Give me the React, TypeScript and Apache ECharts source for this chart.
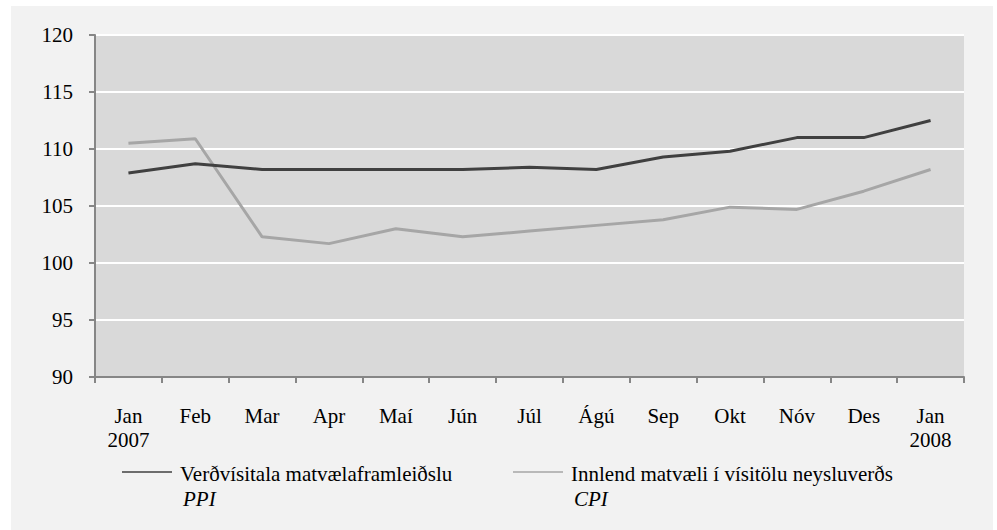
import React, { useEffect, useRef } from "react";
import * as echarts from "echarts";

const categories = ["Jan\n2007", "Feb", "Mar", "Apr", "Maí", "Jún", "Júl", "Ágú", "Sep", "Okt", "Nóv", "Des", "Jan\n2008"];
const ppiValues = [107.9, 108.7, 108.2, 108.2, 108.2, 108.2, 108.4, 108.2, 109.3, 109.8, 111.0, 111.0, 112.5];
const cpiValues = [110.5, 110.9, 102.3, 101.7, 103.0, 102.3, 102.8, 103.3, 103.8, 104.9, 104.7, 106.3, 108.2];
const ppiName = "Verðvísitala matvælaframleiðslu";
const ppiSub = "PPI";
const cpiName = "Innlend matvæli í vísitölu neysluverðs";
const cpiSub = "CPI";
const yMin = 90;
const yMax = 120;
const yStep = 5;

const FONT = "'Liberation Serif', 'Times New Roman', serif";
const DARK = "#404040";
const LIGHT = "#a6a6a6";

export default function App() {
  const ref = useRef<HTMLDivElement>(null);
  useEffect(() => {
    if (!ref.current) return;
    const chart = echarts.init(ref.current, null, { renderer: "svg" });
    const legendItem = (x: number, color: string, name: string, sub: string) => [
      {
        type: "line",
        shape: { x1: x, y1: 472, x2: x + 50, y2: 472 },
        style: { stroke: color, lineWidth: 1.5 },
        z: 10,
      },
      {
        type: "text",
        x: x + 58,
        y: 473.5,
        style: { text: name, font: `21px ${FONT}`, fill: "#000", verticalAlign: "middle", align: "left" },
        z: 10,
      },
      {
        type: "text",
        x: x + 61,
        y: 499,
        style: { text: sub, font: `italic 21px ${FONT}`, fill: "#000", verticalAlign: "middle", align: "left" },
        z: 10,
      },
    ];
    chart.setOption({
      animation: false,
      backgroundColor: "#ffffff",
      graphic: [
        {
          type: "rect",
          shape: { x: 11, y: 6, width: 982, height: 524 },
          style: { fill: "#f2f2f2" },
          z: -10,
          silent: true,
        },
        ...legendItem(122, DARK, ppiName, ppiSub),
        ...legendItem(513, LIGHT, cpiName, cpiSub),
      ],
      grid: {
        left: 95,
        top: 35,
        right: 33,
        bottom: 153,
        show: true,
        backgroundColor: "#d9d9d9",
        borderWidth: 0,
        z: 0,
      },
      xAxis: {
        type: "category",
        data: categories,
        boundaryGap: true,
        axisLine: { show: true, lineStyle: { color: "#868686", width: 2 } },
        axisTick: { show: true, interval: 0, length: 6, lineStyle: { color: "#868686", width: 2 } },
        axisLabel: {
          interval: 0,
          margin: 27,
          fontFamily: FONT,
          fontSize: 21,
          lineHeight: 24,
          color: "#000",
          align: "center",
        },
        splitLine: { show: false },
      },
      yAxis: {
        type: "value",
        min: yMin,
        max: yMax,
        interval: yStep,
        axisLine: { show: true, lineStyle: { color: "#868686", width: 2 } },
        axisTick: { show: true, length: 6, lineStyle: { color: "#868686", width: 2 } },
        axisLabel: { margin: 22, fontFamily: FONT, fontSize: 21, color: "#000" },
        splitLine: { show: true, lineStyle: { color: "#ffffff", width: 2 } },
      },
      series: [
        {
          name: ppiName,
          type: "line",
          data: ppiValues,
          symbol: "none",
          lineStyle: { color: DARK, width: 3 },
          itemStyle: { color: DARK },
          z: 3,
        },
        {
          name: cpiName,
          type: "line",
          data: cpiValues,
          symbol: "none",
          lineStyle: { color: LIGHT, width: 3 },
          itemStyle: { color: LIGHT },
          z: 2,
        },
      ],
    });
    return () => chart.dispose();
  }, []);
  return (
    <div
      ref={ref}
      style={{ position: "absolute", left: 0, top: 0, width: 997, height: 530 }}
    />
  );
}
